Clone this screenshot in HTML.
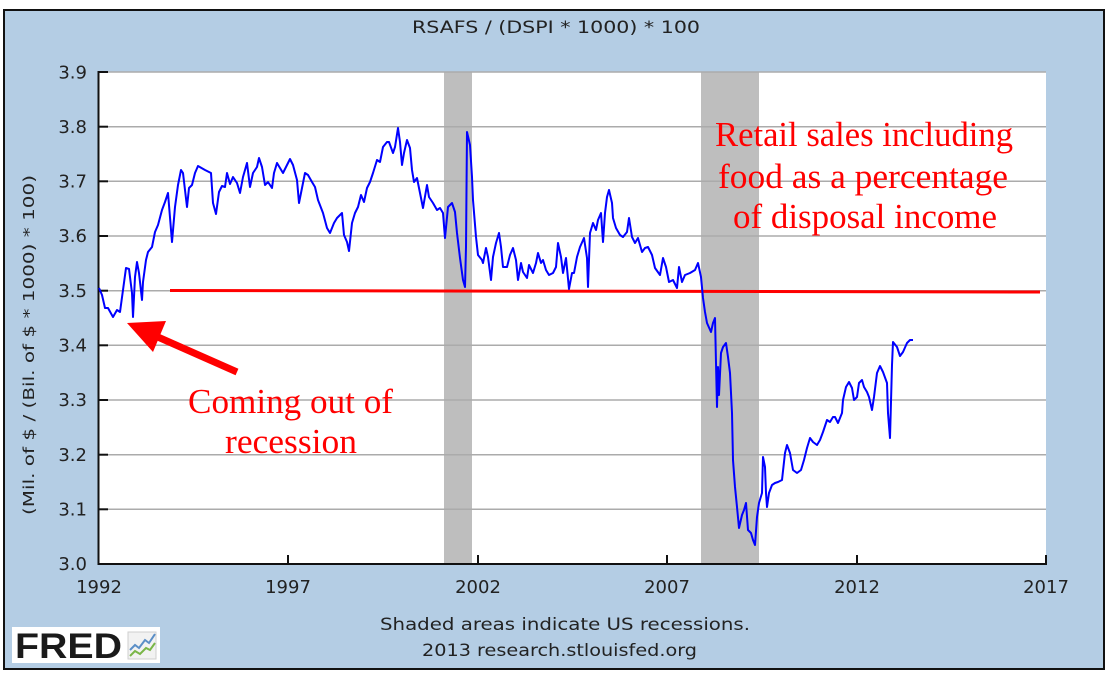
<!DOCTYPE html>
<html>
<head>
<meta charset="utf-8">
<style>
html,body{margin:0;padding:0;background:#fff;}
svg{display:block;}
</style>
</head>
<body>
<svg width="1118" height="676" viewBox="0 0 1118 676" xmlns="http://www.w3.org/2000/svg">
  <rect x="0" y="0" width="1118" height="676" fill="#ffffff"/>
  <!-- frame -->
  <rect x="4" y="10" width="1100" height="659" fill="#b4cde4" stroke="#111" stroke-width="2"/>
  <!-- plot area -->
  <rect x="99" y="72" width="947" height="492" fill="#ffffff"/>
  <!-- recessions -->
  <rect x="444" y="72" width="28" height="492" fill="#bebebe"/>
  <rect x="701" y="72" width="58" height="492" fill="#bebebe"/>
  <!-- gridlines -->
  <g stroke="#ababab" stroke-width="1.5">
    <line x1="99" y1="72" x2="1046" y2="72"/>
    <line x1="99" y1="126.7" x2="1046" y2="126.7"/>
    <line x1="99" y1="181.3" x2="1046" y2="181.3"/>
    <line x1="99" y1="236" x2="1046" y2="236"/>
    <line x1="99" y1="290.7" x2="1046" y2="290.7"/>
    <line x1="99" y1="345.3" x2="1046" y2="345.3"/>
    <line x1="99" y1="400" x2="1046" y2="400"/>
    <line x1="99" y1="454.7" x2="1046" y2="454.7"/>
    <line x1="99" y1="509.3" x2="1046" y2="509.3"/>
  </g>
  <!-- axes -->
  <g stroke="#111" stroke-width="2">
    <line x1="98.5" y1="71" x2="98.5" y2="565"/>
    <line x1="97.5" y1="564" x2="1047" y2="564"/>
    <line x1="98" y1="72" x2="108" y2="72"/>
    <line x1="98" y1="126.7" x2="108" y2="126.7"/>
    <line x1="98" y1="181.3" x2="108" y2="181.3"/>
    <line x1="98" y1="236" x2="108" y2="236"/>
    <line x1="98" y1="290.7" x2="108" y2="290.7"/>
    <line x1="98" y1="345.3" x2="108" y2="345.3"/>
    <line x1="98" y1="400" x2="108" y2="400"/>
    <line x1="98" y1="454.7" x2="108" y2="454.7"/>
    <line x1="98" y1="509.3" x2="108" y2="509.3"/>
    <line x1="288" y1="555" x2="288" y2="564"/>
    <line x1="478" y1="555" x2="478" y2="564"/>
    <line x1="667" y1="555" x2="667" y2="564"/>
    <line x1="857" y1="555" x2="857" y2="564"/>
    <line x1="1046" y1="555" x2="1046" y2="564"/>
  </g>
  <!-- y tick labels -->
  <g font-family="'DejaVu Sans','Liberation Sans',sans-serif" font-size="18" fill="#222" text-anchor="end">
    <text x="87" y="78.5">3.9</text>
    <text x="87" y="133">3.8</text>
    <text x="87" y="187.5">3.7</text>
    <text x="87" y="242">3.6</text>
    <text x="87" y="297">3.5</text>
    <text x="87" y="351.5">3.4</text>
    <text x="87" y="406">3.3</text>
    <text x="87" y="461">3.2</text>
    <text x="87" y="515.5">3.1</text>
    <text x="87" y="570">3.0</text>
  </g>
  <!-- x tick labels -->
  <g font-family="'DejaVu Sans','Liberation Sans',sans-serif" font-size="18" fill="#222" text-anchor="middle">
    <text x="99" y="593">1992</text>
    <text x="288" y="593">1997</text>
    <text x="478" y="593">2002</text>
    <text x="667" y="593">2007</text>
    <text x="857" y="593">2012</text>
    <text x="1046" y="593">2017</text>
  </g>
  <!-- title -->
  <text x="412" y="33" font-family="'DejaVu Sans','Liberation Sans',sans-serif" font-size="17" fill="#222" textLength="288" lengthAdjust="spacingAndGlyphs">RSAFS / (DSPI * 1000) * 100</text>
  <!-- y axis label -->
  <text transform="translate(34,345) rotate(-90)" x="0" y="0" text-anchor="middle" font-family="'DejaVu Sans','Liberation Sans',sans-serif" font-size="15" fill="#222" textLength="340" lengthAdjust="spacingAndGlyphs">(Mil. of $ / (Bil. of $ * 1000) * 100)</text>
  <!-- footer -->
  <text x="380" y="630" font-family="'DejaVu Sans','Liberation Sans',sans-serif" font-size="17" fill="#222" textLength="370" lengthAdjust="spacingAndGlyphs">Shaded areas indicate US recessions.</text>
  <text x="422" y="656" font-family="'DejaVu Sans','Liberation Sans',sans-serif" font-size="17" fill="#222" textLength="275" lengthAdjust="spacingAndGlyphs">2013 research.stlouisfed.org</text>
  <!-- FRED logo -->
  <rect x="12" y="627" width="148" height="36" fill="#ffffff"/>
  <text x="15" y="658" font-family="'Liberation Sans',sans-serif" font-weight="bold" font-size="35" fill="#1a1a1a" textLength="107" lengthAdjust="spacingAndGlyphs">FRED</text>
  <g>
    <rect x="128" y="632" width="28" height="27" fill="#f2f2f2" stroke="#cfcfcf" stroke-width="1"/>
    <polyline points="130,650 135,645 139,648 145,640 149,643 155,634" fill="none" stroke="#5b8fc7" stroke-width="2"/>
    <polyline points="130,656 135,651 140,654 146,648 150,650 155,643" fill="none" stroke="#7ab648" stroke-width="2"/>
  </g>
  <!-- red 3.5 line -->
  <line x1="170" y1="290.5" x2="1040" y2="292" stroke="#ff0000" stroke-width="3"/>
  <!-- series -->
  <polyline fill="none" stroke="#0000ff" stroke-width="2" stroke-linejoin="round" points="99,288 102,295 105,308 108,308 113,317 117,310 120,312 123,290 126,268 129,269 132,293 133,317 135,277 137,262 139,273 142,300 143,282 146,260 148,252 152,247 155,232 158,225 162,210 165,202 168,193 172,242 175,207 178,185 181,170 183,173 187,207 189,188 192,185 195,173 198,166 205,170 211,173 213,203 216,214 219,192 222,186 225,187 227,173 230,184 233,177 237,183 240,193 243,177 247,163 250,187 253,173 257,167 259,158 262,167 265,185 268,182 272,188 274,173 277,163 280,168 283,173 287,165 290,159 293,165 297,180 299,203 302,188 305,173 308,175 312,182 315,187 318,200 323,213 327,228 330,233 334,223 337,218 340,215 342,213 344,235 347,242 349,251 352,223 355,213 358,207 361,195 364,202 367,188 370,182 373,173 377,160 380,162 383,147 387,142 389,142 393,153 395,147 398,128 400,142 402,165 404,153 407,140 410,148 412,170 414,182 417,178 420,193 423,208 427,185 429,197 433,203 437,210 440,208 443,213 445,238 448,207 452,203 455,212 457,233 460,258 463,280 465,287 466,247 467,132 470,145 472,177 473,200 476,237 478,255 482,260 483,263 486,248 488,257 491,280 493,257 496,243 499,233 501,247 503,267 507,267 510,255 513,248 516,260 518,280 521,263 523,272 527,278 529,265 533,273 536,263 538,253 541,263 543,260 546,270 549,275 553,273 556,267 558,243 561,257 563,273 566,258 569,289 572,273 574,273 577,257 580,247 584,238 587,258 588,287 590,233 593,223 596,230 598,220 601,213 603,242 605,213 607,197 609,190 612,203 613,218 616,228 620,235 623,237 627,232 629,218 632,237 635,243 638,238 642,252 645,248 648,247 652,255 655,268 660,275 663,258 666,267 669,282 673,280 677,288 679,267 682,282 685,275 690,273 695,270 698,263 701,277 703,298 705,312 707,323 711,332 713,323 715,318 716,363 717,407 718,367 719,395 721,353 723,347 726,343 728,357 730,373 732,413 733,460 735,487 737,507 739,528 742,515 744,510 746,503 748,530 751,533 753,540 755,545 757,517 759,503 762,493 763,457 765,467 766,493 767,507 769,493 772,485 775,483 778,482 782,480 785,453 787,445 790,453 793,470 797,473 801,470 804,460 807,448 810,438 813,442 817,445 820,440 823,432 827,420 830,422 833,417 835,417 838,423 842,413 843,400 846,387 849,382 852,388 854,400 857,397 859,383 862,380 864,387 867,392 869,397 872,410 874,397 877,373 880,366 883,372 887,383 888,413 890,438 892,365 893,342 897,347 900,356 903,352 907,343 910,340 913,340"/>
  <!-- annotations -->
  <g font-family="'Liberation Serif','Times New Roman',serif" font-size="35" fill="#ff0000">
    <text x="715" y="146" textLength="298" lengthAdjust="spacingAndGlyphs">Retail sales including</text>
    <text x="718" y="188" textLength="290" lengthAdjust="spacingAndGlyphs">food as a percentage</text>
    <text x="733" y="228" textLength="264" lengthAdjust="spacingAndGlyphs">of disposal income</text>
    <text x="188" y="413" textLength="205" lengthAdjust="spacingAndGlyphs">Coming out of</text>
    <text x="225" y="453" textLength="132" lengthAdjust="spacingAndGlyphs">recession</text>
  </g>
  <!-- arrow -->
  <line x1="237" y1="372" x2="142" y2="330" stroke="#ff0000" stroke-width="7"/>
  <polygon points="127,323 166,321 153,352" fill="#ff0000"/>
</svg>
</body>
</html>
